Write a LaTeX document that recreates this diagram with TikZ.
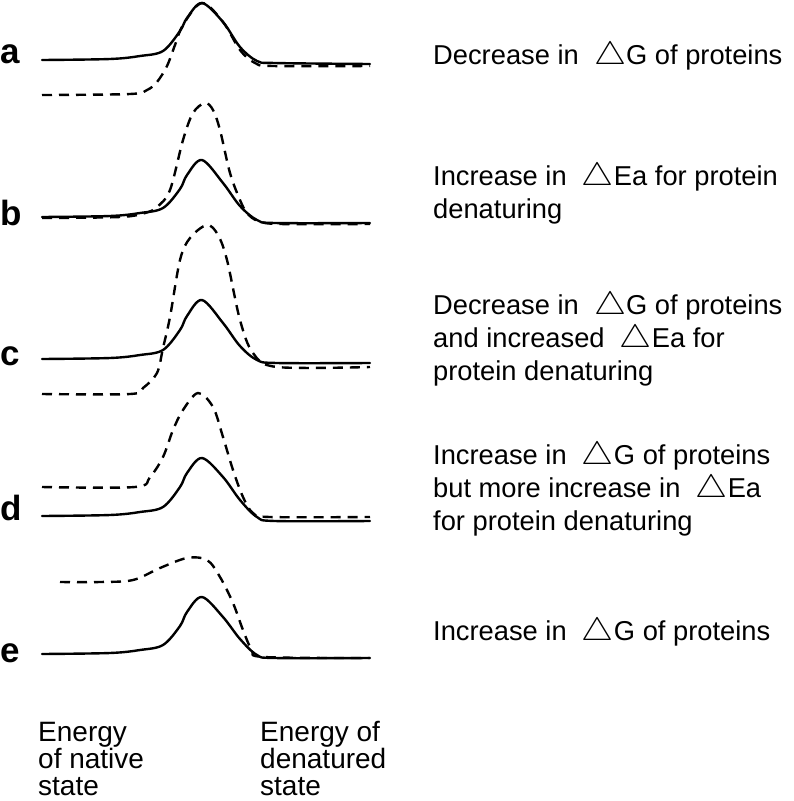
\documentclass[tikz,border=0pt]{standalone}
\usepackage{fontspec}
\usepackage{graphicx}
\setmainfont{Liberation Sans}
\usetikzlibrary{positioning}
\newcommand{\dlt}{\scalebox{1.45}[1.3]{$\triangle$}}

\begin{document}
\begin{tikzpicture}[
  x=1pt, y=-1pt,
  line join=round,
  sol/.style={line width=2.4pt, line cap=round},
  dsh/.style={line width=2.4pt, dash pattern=on 10pt off 7pt},
  panel/.style={anchor=base west, inner sep=0pt, font=\fontsize{35}{42}\selectfont\bfseries},
  note/.style={anchor=base west, inner sep=0pt, align=left, font=\fontsize{27.3}{33}\selectfont},
  axis/.style={anchor=base west, inner sep=0pt, align=left, font=\fontsize{28}{27}\selectfont},
]
\useasboundingbox (0,0) rectangle (793,801);

% ---- panel letters ----
\node[panel] (la) at (0,63)  {a};
\node[panel] (lb) at (0,225) {b};
\node[panel] (lc) at (0,365) {c};
\node[panel] (ld) at (0,520) {d};
\node[panel] (le) at (0,662) {e};

% ---- a ----
\draw[sol] plot[smooth, tension=.55] coordinates {(42,60) (110,59) (140,56) (163,51)
  (180,31) (187,18) (202,3) (223,22) (240,47) (257,61) (275,63) (370,64)};
\draw[dsh] plot[smooth, tension=.55] coordinates {(42,95) (130,94) (147,90) (157,82)
  (167,66) (175,45) (183,25) (202,3) (223,22) (240,50) (255,63) (273,66) (370,66)};

% ---- b ----
\draw[sol] plot[smooth, tension=.55] coordinates {(42,217) (110,216) (140,213) (163,208)
  (180,189) (187,175) (202,160) (223,183) (240,206) (257,220) (275,223) (370,223)};
\draw[dsh] plot[smooth, tension=.55] coordinates {(42,218) (120,217) (145,213) (157,207)
  (170,190) (183,140) (193,113) (205,103) (213,110) (220,130) (230,173) (240,200)
  (247,213) (258,221) (280,224) (370,224)};

% ---- c ----
\draw[sol] plot[smooth, tension=.55] coordinates {(42,359) (110,358) (140,355) (163,350)
  (180,330) (187,316) (202,300) (223,323) (240,346) (257,360) (277,363) (370,363)};
\draw[dsh] plot[smooth, tension=.55] coordinates {(42,394) (130,394) (143,388) (157,373)
  (163,348) (170,317) (180,260) (190,238) (207,225) (218,235) (227,260) (240,320)
  (253,353) (277,367) (370,367)};

% ---- d ----
\draw[sol] plot[smooth, tension=.55] coordinates {(42,516) (110,515) (140,512) (163,507)
  (180,487) (187,473) (202,458) (223,477) (240,500) (257,517) (275,521) (370,521)};
\draw[dsh] plot[smooth, tension=.55] coordinates {(42,487) (135,487) (150,477) (163,457)
  (173,430) (183,410) (198,393) (213,407) (223,437) (233,470) (243,497) (253,513)
  (270,517) (370,517)};

% ---- e ----
\draw[sol] plot[smooth, tension=.55] coordinates {(42,654) (110,653) (140,650) (163,645)
  (180,626) (187,612) (202,597) (223,617) (240,639) (257,655) (275,658) (370,658)};
\draw[dsh] plot[smooth, tension=.55] coordinates {(60,582) (100,582) (133,580) (160,568)
  (187,558) (207,560) (220,577) (233,603) (243,630) (252,650) (264,657) (370,658)};

% ---- notes (anchored on the last line) ----
\node[note] (na) at (433,64)  {Decrease in \ \dlt G of proteins};
\node[note] (nb) at (433,218) {Increase in \ \dlt Ea for protein\\denaturing};
\node[note] (nc) at (433,380) {Decrease in \ \dlt G of proteins\\and increased \ \dlt Ea for\\protein denaturing};
\node[note] (nd) at (433,530) {Increase in \ \dlt G of proteins\\but more increase in \ \dlt Ea\\for protein denaturing};
\node[note] (ne) at (433,640) {Increase in \ \dlt G of proteins};

% ---- axis ends ----
\node[axis] (native) at (38,795)  {Energy\\of native\\state};
\node[axis] (denat)  at (260,795) {Energy of\\denatured\\state};
\end{tikzpicture}
\end{document}
